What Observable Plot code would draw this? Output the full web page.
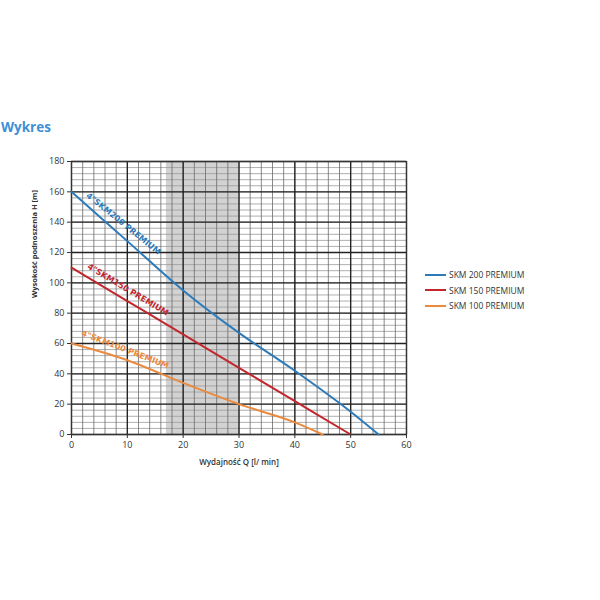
<!DOCTYPE html>
<html><head><meta charset="utf-8">
<script src="https://cdn.jsdelivr.net/npm/d3@7"></script>
<script src="https://cdn.jsdelivr.net/npm/@observablehq/plot@0.6"></script>
<style>
body{margin:0;background:#fff;font-family:"Open Sans",sans-serif;}
#wrap{position:relative;width:600px;height:600px;}
#title{position:absolute;left:1px;top:118px;font-size:13.5px;font-weight:700;color:#3d90d8;}
#legend{position:absolute;left:425px;top:267px;font-size:8.5px;color:#333;}
.li{display:flex;align-items:center;height:15.5px;}
.sw{width:21px;height:2px;margin-right:3px;}
</style></head><body>
<div id="wrap"><div id="title">Wykres</div><div id="chart"></div><div id="legend"></div></div>
<script>
const seriesNames = ["SKM 200 PREMIUM","SKM 150 PREMIUM","SKM 100 PREMIUM"];
const curveLabels = ["4\"SKM200 PREMIUM","4\"SKM150 PREMIUM","4\"SKM100 PREMIUM"];
const colors = ["#2b7bbb","#c1272d","#ea8a3e"];
const q200 = [0,10,20,30,40,50,55];
const h200 = [160,127.5,95,67,42,15,0];
const q150 = [0,10,20,30,40,50];
const h150 = [110,88,66,44,22,0];
const q100 = [0,10,20,30,40,45];
const h100 = [60,49,34,20,8,0];
const xTicks = [0,10,20,30,40,50,60];
const yTicks = [0,20,40,60,80,100,120,140,160,180];
const shadedBand = [17,30];
const xLabel = "Wydajność Q [l/ min]";
const yLabel = "Wysokość podnoszenia H [m]";
// label anchor positions (data coordinates) and rotations
const labelX = [9.3,10.1,9.6];
const labelY = [139,95.5,56];
const labelRot = [39,31,21];

const lines = [[q200,h200],[q150,h150],[q100,h100]].flatMap(([q,h],i)=>q.map((x,j)=>({s:seriesNames[i],x,y:h[j]})));
const minorX = d3.range(0,61,2), majorX = d3.range(0,61,10);
const minorY = d3.range(0,181,4), majorY = d3.range(0,181,20);
const labs = curveLabels.map((t,i)=>({t,x:labelX[i],y:labelY[i],r:labelRot[i],c:colors[i]}));

const chart = Plot.plot({
  width:600, height:600,
  marginLeft:71, marginRight:194, marginTop:161, marginBottom:166,
  style:{fontFamily:"Open Sans, sans-serif", fontSize:"9px", color:"#333"},
  x:{domain:[0,60]}, y:{domain:[0,180]},
  color:{domain:seriesNames, range:colors},
  marks:[
    Plot.rect([shadedBand],{x1:d=>d[0],x2:d=>d[1],y1:0,y2:180,fill:"#d2d2d2"}),
    Plot.ruleY(minorY,{stroke:"#9a9a9a",strokeWidth:0.8}),
    Plot.ruleX(minorX,{stroke:"#6a6a6a",strokeWidth:0.8}),
    Plot.ruleY(majorY,{stroke:"#222",strokeWidth:1.3}),
    Plot.ruleX(majorX,{stroke:"#222",strokeWidth:1.3}),
    Plot.frame({stroke:"#333",strokeWidth:1.2}),
    Plot.line(lines,{x:"x",y:"y",z:"s",stroke:"s",strokeWidth:2,curve:"monotone-x"}),
    Plot.text(labs,{x:"x",y:"y",text:"t",rotate:"r",fill:"c",fontSize:8.1,fontWeight:700,fontFamily:"DejaVu Sans, sans-serif",textAnchor:"middle"}),
    Plot.axisX(xTicks,{tickSize:4,tickPadding:3,label:null,fontSize:9,fill:"#333"}),
    Plot.axisY(yTicks,{tickSize:4,tickPadding:3,label:null,fontSize:9,fill:"#333"}),
    Plot.text([xLabel],{text:d=>d,frameAnchor:"bottom",dy:30,fontSize:8,fontWeight:600,fill:"#333"}),
    Plot.text([yLabel],{text:d=>d,frameAnchor:"left",dx:-37,rotate:-90,fontSize:7.5,fontWeight:700,fill:"#333"})
  ]
});
document.getElementById("chart").append(chart);
const lg = document.getElementById("legend");
seriesNames.forEach((n,i)=>{
  const r=document.createElement("div");r.className="li";
  const s=document.createElement("div");s.className="sw";s.style.background=colors[i];
  const t=document.createElement("span");t.textContent=n;
  r.append(s,t);lg.append(r);
});
</script></body></html>
